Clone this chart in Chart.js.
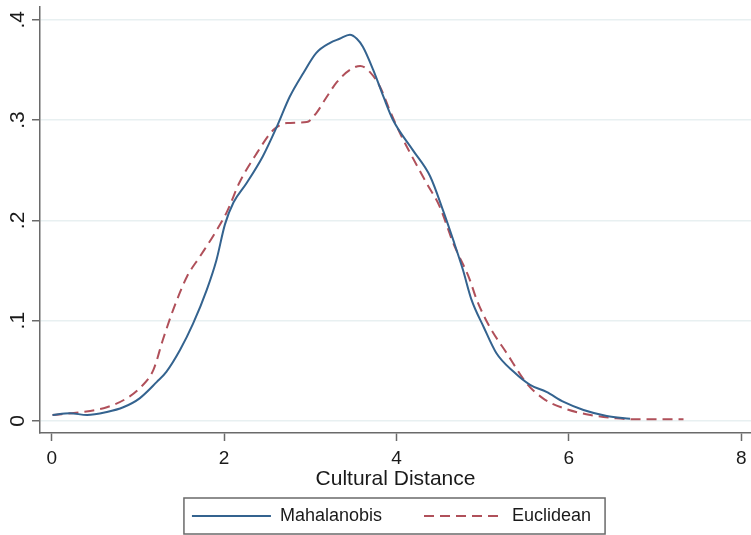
<!DOCTYPE html>
<html>
<head>
<meta charset="utf-8">
<script src="https://cdn.jsdelivr.net/npm/chart.js@4.4.1/dist/chart.umd.min.js"></script>
<style>
  body { margin: 0; background: #fff; }
  #wrap { width: 751px; height: 535px; }
</style>
</head>
<body>
<div id="wrap"><canvas id="myChart"></canvas></div>
<script>
// kernel densities
const mahaX = [0.01, 0.21, 0.41, 0.64, 0.83, 1.02, 1.22, 1.33, 1.49, 1.64, 1.80, 1.91, 2.01, 2.11, 2.26, 2.45, 2.61, 2.76, 2.92, 3.07, 3.23, 3.34, 3.46, 3.54, 3.61, 3.73, 3.85, 3.96, 4.19, 4.39, 4.54, 4.66, 4.77, 4.87, 5.01, 5.16, 5.36, 5.55, 5.74, 5.94, 6.17, 6.44, 6.71];
const mahaY = [0.006, 0.0077, 0.006, 0.009, 0.0137, 0.0226, 0.039, 0.049, 0.071, 0.097, 0.131, 0.160, 0.196, 0.218, 0.237, 0.264, 0.293, 0.323, 0.347, 0.367, 0.377, 0.381, 0.385, 0.381, 0.373, 0.350, 0.323, 0.300, 0.270, 0.244, 0.210, 0.180, 0.151, 0.121, 0.094, 0.0675, 0.049, 0.036, 0.029, 0.019, 0.011, 0.005, 0.0023];

const euclX = [0.01, 0.33, 0.64, 0.87, 1.02, 1.18, 1.29, 1.41, 1.57, 1.72, 1.87, 2.03, 2.18, 2.38, 2.57, 2.73, 2.96, 3.07, 3.19, 3.31, 3.46, 3.58, 3.69, 3.81, 3.92, 4.04, 4.16, 4.35, 4.50, 4.66, 4.85, 4.93, 5.08, 5.28, 5.51, 5.70, 5.94, 6.25, 6.55, 6.79, 7.33];
const euclY = [0.006, 0.0087, 0.0137, 0.0226, 0.0326, 0.051, 0.081, 0.111, 0.144, 0.164, 0.184, 0.208, 0.238, 0.267, 0.290, 0.297, 0.298, 0.307, 0.323, 0.338, 0.350, 0.354, 0.348, 0.333, 0.310, 0.287, 0.267, 0.237, 0.214, 0.177, 0.141, 0.121, 0.094, 0.0675, 0.0376, 0.0226, 0.0127, 0.006, 0.0027, 0.0017, 0.0017];

const xTicks = [0, 2, 4, 6, 8];
const yTicks = [0, 0.1, 0.2, 0.3, 0.4];
const seriesNames = ['Mahalanobis', 'Euclidean'];
const xTitle = 'Cultural Distance';

const blue = '#34638f';
const red = '#b0505a';
const axisGray = '#6a6a6a';
const font = 'Liberation Sans, Arial, sans-serif';

// legend sits a bit right of centre and has a frame round it
const legendFrame = {
    id: 'legendFrame',
    afterLayout(chart) {
        chart.legend.left += 16;
        chart.legend.right += 16;
    },
    afterDraw(chart) {
        const hb = chart.legend.legendHitBoxes;
        if (!hb || hb.length < 2) return;
        const ctx = chart.ctx;
        const l = hb[0].left - 8;
        const r = hb[1].left + hb[1].width + 14;
        const t = hb[0].top - 9;
        const b = hb[0].top + hb[0].height + 9;
        ctx.save();
        ctx.strokeStyle = axisGray;
        ctx.lineWidth = 1.5;
        ctx.strokeRect(l, t, r - l, b - t);
        ctx.restore();
    }
};

var ctx = document.getElementById('myChart').getContext('2d');
var chart = new Chart(ctx, {
    type: 'line',
    data: {
        datasets: [{
            label: seriesNames[0],
            data: mahaX.map((x, i) => ({x: x, y: mahaY[i]})),
            borderColor: blue,
            backgroundColor: blue,
            borderWidth: 2,
            pointRadius: 0,
            fill: false,
            cubicInterpolationMode: 'monotone'
        }, {
            label: seriesNames[1],
            data: euclX.map((x, i) => ({x: x, y: euclY[i]})),
            borderColor: red,
            backgroundColor: red,
            borderWidth: 2,
            borderDash: [10, 6],
            pointRadius: 0,
            fill: false,
            cubicInterpolationMode: 'monotone'
        }]
    },
    options: {
        responsive: true,
        maintainAspectRatio: false,
        animation: false,
        layout: { padding: { top: 7, left: 0, right: 0, bottom: 0 } },
        plugins: {
            tooltip: { enabled: false },
            legend: {
                position: 'bottom',
                labels: {
                    usePointStyle: true,
                    pointStyle: 'line',
                    pointStyleWidth: 79,
                    boxHeight: 18,
                    padding: 42,
                    color: '#1a1a1a',
                    font: { family: font, size: 18 },
                    // point style drops the dash, so put it back from the dataset
                    generateLabels: c => Chart.defaults.plugins.legend.labels.generateLabels(c).map((item, i) => {
                        item.lineDash = c.data.datasets[i].borderDash || [];
                        item.lineWidth = 2;
                        item.strokeStyle = c.data.datasets[i].borderColor;
                        return item;
                    })
                }
            }
        },
        scales: {
            x: {
                type: 'linear',
                min: -0.1357,
                max: 8.113,
                afterBuildTicks: s => { s.ticks = xTicks.map(v => ({value: v})); },
                afterFit: s => { s.height = 32; s.paddingLeft = 0; s.paddingRight = 0; },
                grid: { drawOnChartArea: false, tickLength: 8, tickColor: axisGray, tickWidth: 1.5 },
                border: { color: axisGray, width: 1.5 },
                ticks: {
                    padding: 8.5,
                    maxRotation: 0,
                    color: '#1a1a1a',
                    font: { family: font, size: 19, lineHeight: 1 }
                },
                title: {
                    display: true,
                    text: xTitle,
                    color: '#1a1a1a',
                    padding: { top: 0, bottom: -25 },
                    font: { family: font, size: 21, lineHeight: 1 }
                }
            },
            y: {
                min: -0.01196,
                max: 0.4127,
                afterBuildTicks: s => { s.ticks = yTicks.map(v => ({value: v})); },
                afterFit: s => { s.width = 40; s.paddingTop = 0; s.paddingBottom = 0; },
                grid: { color: '#e8f0f1', lineWidth: 1.5, tickLength: 8, tickColor: axisGray, tickWidth: 1.5 },
                border: { color: axisGray, width: 1.5 },
                ticks: {
                    padding: 5,
                    minRotation: 90,
                    maxRotation: 90,
                    crossAlign: 'center',
                    color: '#1a1a1a',
                    font: { family: font, size: 21, lineHeight: 1 },
                    callback: v => v === 0 ? '0' : String(Math.round(v * 10) / 10).replace('0.', '.')
                }
            }
        }
    },
    plugins: [legendFrame]
});
</script>
</body>
</html>
